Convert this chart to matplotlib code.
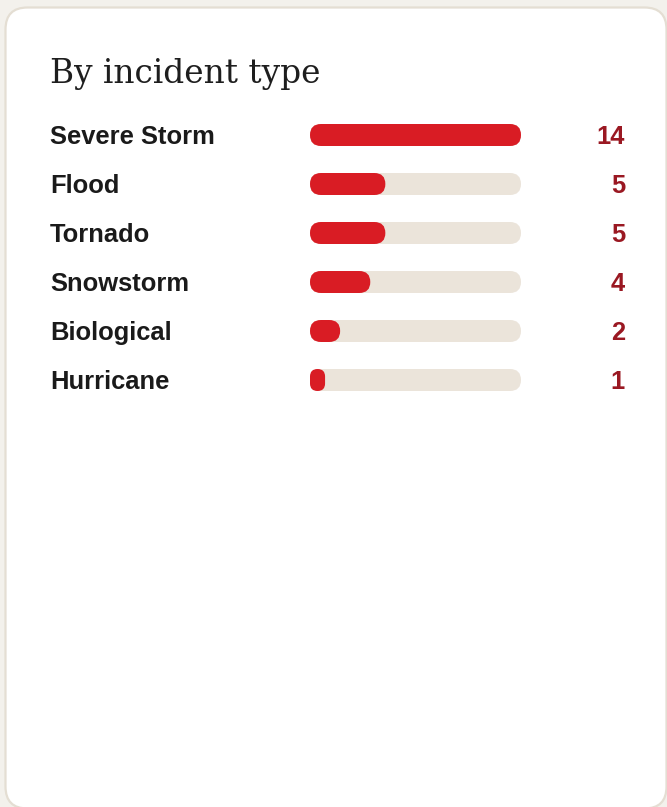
import matplotlib
matplotlib.use("Agg")
import matplotlib.pyplot as plt
from matplotlib.patches import FancyBboxPatch

# Incident counts by type
categories = ["Severe Storm", "Flood", "Tornado", "Snowstorm", "Biological", "Hurricane"]
counts = [14, 5, 5, 4, 2, 1]
title = "By incident type"

W, H = 667, 807
DPI = 100

PAGE_BG = "#f3f1ec"
CARD_BG = "#ffffff"
CARD_EDGE = "#e4ded3"
TRACK = "#ebe4da"
FILL = "#d91c24"
VALUE_COLOR = "#9a1822"
LABEL_COLOR = "#1a1a1a"

fig = plt.figure(figsize=(W / DPI, H / DPI), dpi=DPI)
fig.patch.set_facecolor(PAGE_BG)

# Pixel-space canvas for the card and text
bg = fig.add_axes([0, 0, 1, 1])
bg.set_xlim(0, W)
bg.set_ylim(H, 0)
bg.axis("off")

card = FancyBboxPatch((5.5, 7.5), 661, 801, boxstyle="round,pad=0,rounding_size=22",
                      facecolor=CARD_BG, edgecolor=CARD_EDGE, linewidth=1.6, zorder=1)
bg.add_patch(card)

bg.text(50, 83, title, fontfamily="DejaVu Serif", fontsize=23.6, color="#1e1e1e",
        va="baseline", ha="left", zorder=3)

# Bar area geometry (pixels)
bar_left, bar_right = 310, 521
row0, row_step = 135, 49
bar_h_px = 22
n = len(categories)

top_px = row0 - row_step / 2
bot_px = row0 + row_step * (n - 0.5)
ax = fig.add_axes([bar_left / W, 1 - bot_px / H, (bar_right - bar_left) / W, (bot_px - top_px) / H])
vmax = max(counts)
ax.set_xlim(0, vmax)
ax.set_ylim(n - 0.5, -0.5)
ax.axis("off")
ax.patch.set_alpha(0)

sx = (bar_right - bar_left) / vmax  # px per value unit
sy = row_step                       # px per row unit
h_u = bar_h_px / sy
aspect = sx / sy


def pill(x0, width, y, color, z):
    w_px = width * sx
    r_px = min(bar_h_px / 2, w_px / 2)
    p = FancyBboxPatch((x0, y - h_u / 2), width, h_u,
                       boxstyle=f"round,pad=0,rounding_size={r_px / sx}",
                       mutation_aspect=aspect, facecolor=color, edgecolor="none",
                       zorder=z)
    ax.add_patch(p)


for i, (cat, v) in enumerate(zip(categories, counts)):
    pill(0, vmax, i, TRACK, 2)
    pill(0, v, i, FILL, 3)
    yc = row0 + i * row_step
    bg.text(50, yc + 9, cat, fontfamily="Liberation Sans", fontweight="bold",
            fontsize=18.4, color=LABEL_COLOR, va="baseline", ha="left", zorder=3)
    bg.text(625, yc + 9, str(v), fontfamily="Liberation Sans", fontweight="bold",
            fontsize=18.4, color=VALUE_COLOR, va="baseline", ha="right", zorder=3)

fig.savefig("out.png", dpi=DPI, facecolor=PAGE_BG)
